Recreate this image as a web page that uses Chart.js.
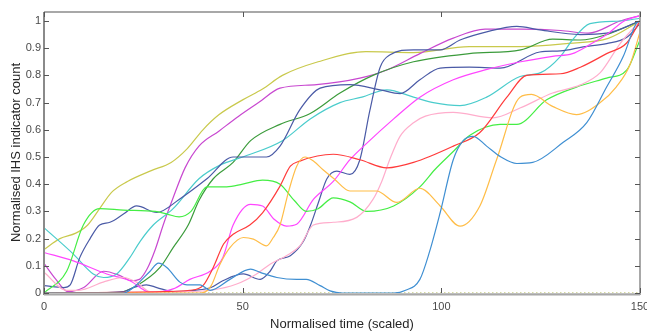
<!DOCTYPE html>
<html>
<head>
<meta charset="utf-8">
<script src="https://cdn.jsdelivr.net/npm/chart.js"></script>
<style>
  html, body { margin: 0; padding: 0; background: #fff; }
  canvas { display: block; }
</style>
</head>
<body>
<canvas id="grafico" width="647" height="333"></canvas>
<script>
// ---------- datos ----------
// eje x: tiempo normalizado (0-150), eje y: cuenta normalizada (0-1)
const xTicks = [0, 50, 100, 150];
const yTicks = [0, 0.1, 0.2, 0.3, 0.4, 0.5, 0.6, 0.7, 0.8, 0.9, 1];

const tYellow = [0, 4, 8, 11, 14, 17, 21, 27, 32, 36, 40, 44, 50, 55, 60, 69, 81, 93, 107, 120, 132, 142, 150];
const vYellow = [0.16, 0.2, 0.22, 0.25, 0.31, 0.37, 0.41, 0.45, 0.48, 0.53, 0.6, 0.655, 0.71, 0.75, 0.8, 0.85, 0.887, 0.884, 0.906, 0.906, 0.918, 0.936, 1.0];

const tPurple = [0, 3, 6, 10, 15, 19, 22, 24, 26, 28, 30, 32.5, 35.5, 39, 44, 49, 54, 59.4, 68.6, 79.5, 86.3, 94.6, 103, 111, 120, 130, 137, 145, 150];
const vPurple = [0.109, 0.05, 0.005, 0.02, 0.08, 0.065, 0.045, 0.05, 0.09, 0.16, 0.25, 0.35, 0.46, 0.54, 0.595, 0.65, 0.7, 0.753, 0.766, 0.79, 0.82, 0.88, 0.937, 0.97, 0.97, 0.965, 0.955, 1.0, 1.02];

const tMagenta = [0, 7.4, 15.8, 21.6, 26.7, 32.5, 36.7, 41.8, 45, 47.6, 52, 55, 58, 61, 63.6, 67.8, 72.8, 77, 81.2, 88, 94.6, 103, 111, 120, 128, 133, 137, 141.6, 146, 150];
const vMagenta = [0.149, 0.118, 0.07, 0.045, 0.003, 0.015, 0.05, 0.08, 0.13, 0.25, 0.326, 0.32, 0.27, 0.246, 0.253, 0.344, 0.41, 0.49, 0.55, 0.64, 0.72, 0.784, 0.82, 0.85, 0.87, 0.88, 0.91, 0.95, 1.0, 1.02];

const tNavy1 = [0, 5, 6.6, 9, 11.6, 14, 16.6, 20, 23.3, 28.4, 34, 41, 47.6, 56, 59.4, 64.4, 69.5, 77, 84.6, 89.6, 94.6, 99.7, 107, 114.8, 124.8, 130, 135.7, 141.6, 146.7, 150];
const vNavy1 = [0.027, 0.02, 0.03, 0.13, 0.2, 0.25, 0.26, 0.29, 0.32, 0.296, 0.344, 0.42, 0.5, 0.5, 0.54, 0.674, 0.753, 0.766, 0.747, 0.733, 0.784, 0.827, 0.83, 0.827, 0.886, 0.89, 0.905, 0.917, 0.94, 0.99];

const tNavy2 = [0, 10, 20, 22.5, 25.8, 28.4, 32.5, 38, 42, 45, 50.2, 54.4, 56.9, 58.6, 62, 65.3, 67, 69, 71.2, 73.7, 77, 79.5, 82, 84.6, 87, 93, 99.7, 104.7, 111.4, 119, 124.8, 135, 141.6, 150];
const vNavy2 = [0, 0, 0.005, 0.02, 0.03, 0.02, 0.005, 0.01, 0.02, 0.045, 0.07, 0.05, 0.08, 0.118, 0.137, 0.19, 0.246, 0.33, 0.42, 0.448, 0.436, 0.49, 0.67, 0.83, 0.875, 0.894, 0.894, 0.93, 0.96, 0.98, 0.967, 0.95, 0.955, 1.0];

const tDarkGreen = [0, 18, 23.3, 29.2, 32.5, 36.3, 39, 42.6, 47.6, 52, 59.4, 67, 74.5, 82.8, 93, 107, 120, 128, 135, 141.6, 150];
const vDarkGreen = [0, 0, 0.027, 0.094, 0.167, 0.25, 0.34, 0.42, 0.48, 0.56, 0.62, 0.66, 0.735, 0.8, 0.85, 0.88, 0.894, 0.933, 0.93, 0.95, 1.0];

const tGreen = [0, 5.7, 9.9, 14, 20, 28, 31, 34, 37, 41, 46, 50, 55, 59.4, 63, 66, 69, 72.8, 77, 81.2, 88, 94.6, 98.4, 103, 107.2, 114.8, 119, 126.5, 134, 141.6, 146.7, 150];
const vGreen = [0, 0.08, 0.25, 0.31, 0.305, 0.3, 0.29, 0.28, 0.3, 0.39, 0.39, 0.4, 0.415, 0.4, 0.34, 0.3, 0.31, 0.35, 0.335, 0.3, 0.32, 0.39, 0.454, 0.52, 0.58, 0.62, 0.62, 0.71, 0.757, 0.79, 0.82, 0.93];

const tCyan = [0, 7.4, 12.4, 15, 18.3, 21.6, 24.2, 27.5, 32.5, 39, 44.3, 50, 60, 67, 74.5, 80, 86.3, 93, 98, 104.7, 111.4, 119.8, 125, 130, 133, 137.4, 145, 150];
const vCyan = [0.24, 0.143, 0.07, 0.057, 0.07, 0.13, 0.19, 0.25, 0.31, 0.42, 0.47, 0.5, 0.56, 0.64, 0.7, 0.72, 0.747, 0.72, 0.7, 0.689, 0.72, 0.796, 0.81, 0.87, 0.93, 0.99, 1.0, 1.01];

const tRed = [0, 30, 36.7, 40, 42.6, 45.2, 47.6, 51.8, 55, 59.4, 62, 64.4, 72.8, 79.5, 86.3, 93, 103, 109.7, 116.5, 121.5, 130, 135, 141.6, 146.7, 150];
const vRed = [0, 0.005, 0.01, 0.027, 0.094, 0.18, 0.216, 0.25, 0.295, 0.393, 0.466, 0.485, 0.51, 0.49, 0.46, 0.48, 0.54, 0.59, 0.72, 0.8, 0.806, 0.83, 0.88, 0.92, 1.0];

const tOrange = [0, 39.5, 42, 44.3, 46.8, 50.2, 52.7, 56, 57.7, 59.4, 61.5, 63.6, 65.7, 67.8, 70.3, 73, 77, 83.7, 88.8, 94.6, 99.7, 104.7, 109.7, 113.9, 119.8, 122.7, 128, 134, 140, 144, 147.5, 150];
const vOrange = [0, 0, 0.025, 0.106, 0.167, 0.204, 0.198, 0.173, 0.204, 0.25, 0.37, 0.466, 0.5, 0.485, 0.452, 0.42, 0.375, 0.375, 0.333, 0.385, 0.32, 0.246, 0.32, 0.49, 0.72, 0.73, 0.686, 0.656, 0.7, 0.757, 0.84, 0.96];

const tPink = [0, 5.7, 8.7, 14.9, 20, 23.3, 26.7, 35, 42, 48.5, 53.5, 56.9, 61, 64.4, 67.8, 72.8, 78.7, 82.8, 85, 87, 89.6, 93, 96, 103, 113, 119.8, 128, 135, 140, 145, 150];
const vPink = [0.076, 0.01, 0.01, 0.04, 0.057, 0.04, 0.005, 0.005, 0.01, 0.033, 0.07, 0.106, 0.137, 0.173, 0.25, 0.26, 0.278, 0.344, 0.41, 0.49, 0.576, 0.626, 0.65, 0.664, 0.644, 0.68, 0.735, 0.765, 0.81, 0.917, 1.0];

const tBlue = [0, 20, 22.5, 26.7, 28.8, 30.9, 34.2, 36, 39.3, 41.8, 46.8, 52, 54.4, 58.6, 63.6, 66, 69.5, 72, 75, 88, 91, 94.6, 97, 99.7, 103, 105.5, 108, 111.4, 115, 119, 123, 130.6, 136.6, 141.6, 145.8, 149, 150];
const vBlue = [0, 0, 0.02, 0.08, 0.11, 0.094, 0.04, 0.03, 0.03, 0.01, 0.05, 0.088, 0.076, 0.057, 0.05, 0.05, 0.027, 0.008, 0, 0, 0.01, 0.05, 0.15, 0.295, 0.49, 0.56, 0.576, 0.54, 0.5, 0.476, 0.48, 0.553, 0.626, 0.757, 0.87, 0.99, 1.0];

// linea de referencia punteada en cero
const tBase = [0, 150];
const vBase = [0, 0];

// ---------- construccion de series ----------
function serie(ts, vs, color) {
  return {
    data: ts.map((t, i) => ({ x: t, y: vs[i] })),
    borderColor: color,
    borderWidth: 1.2,
    pointRadius: 0,
    fill: false,
    cubicInterpolationMode: 'monotone'
  };
}

const datasets = [
  serie(tBlue, vBlue, '#3f8fd2'),
  serie(tOrange, vOrange, '#ffbd47'),
  serie(tRed, vRed, '#ff3b3b'),
  serie(tPink, vPink, '#ffadcc'),
  serie(tGreen, vGreen, '#45ee45'),
  serie(tMagenta, vMagenta, '#ff45ff'),
  serie(tNavy2, vNavy2, '#4a5aa6'),
  serie(tNavy1, vNavy1, '#4a5aa6'),
  serie(tCyan, vCyan, '#4acccc'),
  serie(tDarkGreen, vDarkGreen, '#3b9b3b'),
  serie(tPurple, vPurple, '#c848d0'),
  serie(tYellow, vYellow, '#c9c94c'),
  Object.assign(serie(tBase, vBase, '#a8b040'), { borderDash: [1.5, 2.5], borderWidth: 1 })
];

// ---------- marco y marcas hacia dentro (estilo MATLAB) ----------
const marco = {
  id: 'marco',
  afterDatasetsDraw(chart) {
    const { ctx, chartArea: a, scales: { x, y } } = chart;
    ctx.save();
    ctx.strokeStyle = '#a8a8a8';
    ctx.lineWidth = 2;
    ctx.beginPath();
    ctx.moveTo(a.left, a.top);
    ctx.lineTo(a.right, a.top);
    ctx.lineTo(a.right, a.bottom + 2);
    ctx.stroke();
    ctx.strokeStyle = '#8a8a8a';
    ctx.beginPath();
    ctx.moveTo(a.left, a.top);
    ctx.lineTo(a.left, a.bottom + 2);
    ctx.stroke();
    ctx.strokeStyle = '#a8a8a8';
    ctx.lineWidth = 2.4;
    ctx.beginPath();
    ctx.moveTo(a.left, a.bottom + 1.4);
    ctx.lineTo(a.right, a.bottom + 1.4);
    ctx.stroke();

    ctx.strokeStyle = '#555';
    ctx.lineWidth = 1;
    ctx.beginPath();
    yTicks.forEach(v => {
      const py = Math.round(y.getPixelForValue(v)) + 0.5;
      ctx.moveTo(a.left, py); ctx.lineTo(a.left + 5, py);
      ctx.moveTo(a.right, py); ctx.lineTo(a.right - 5, py);
    });
    xTicks.forEach(v => {
      const px = Math.round(x.getPixelForValue(v)) + 0.5;
      ctx.moveTo(px, a.top); ctx.lineTo(px, a.top + 5);
      ctx.moveTo(px, a.bottom); ctx.lineTo(px, a.bottom - 5);
    });
    ctx.stroke();
    ctx.restore();
  }
};

const fuente = { family: "'Liberation Sans', Arial, sans-serif", size: 11 };

new Chart(document.getElementById('grafico').getContext('2d'), {
  type: 'line',
  data: { datasets },
  options: {
    responsive: false,
    animation: false,
    layout: { padding: { top: 12, right: 7, left: 0, bottom: 0 } },
    plugins: { legend: { display: false }, tooltip: { enabled: false } },
    scales: {
      x: {
        type: 'linear',
        min: 0,
        max: 150,
        grid: { display: false, drawTicks: false, tickLength: 0 },
        border: { display: false },
        afterBuildTicks: s => { s.ticks = xTicks.map(v => ({ value: v })); },
        afterFit: s => { s.height = 40; s.paddingLeft = 0; s.paddingRight = 0; },
        ticks: { padding: 7, color: '#4a4a4a', font: fuente, maxRotation: 0, autoSkip: false },
        title: {
          display: true,
          text: 'Normalised time (scaled)',
          color: '#262626',
          font: { family: fuente.family, size: 13 },
          padding: { top: 0, bottom: 1 }
        }
      },
      y: {
        type: 'linear',
        min: 0,
        max: 1.033,
        grid: { display: false, drawTicks: false, tickLength: 0 },
        border: { display: false },
        afterBuildTicks: s => { s.ticks = yTicks.map(v => ({ value: v })); },
        afterFit: s => { s.width = 44; s.paddingTop = 0; s.paddingBottom = 0; },
        ticks: {
          padding: 3,
          color: '#4a4a4a',
          font: fuente,
          autoSkip: false,
          callback: v => String(+v.toFixed(1))
        },
        title: {
          display: true,
          text: 'Normalised IHS indicator count',
          color: '#262626',
          font: { family: fuente.family, size: 13 },
          padding: { top: 9, bottom: 0 }
        }
      }
    }
  },
  plugins: [marco]
});
</script>
</body>
</html>
